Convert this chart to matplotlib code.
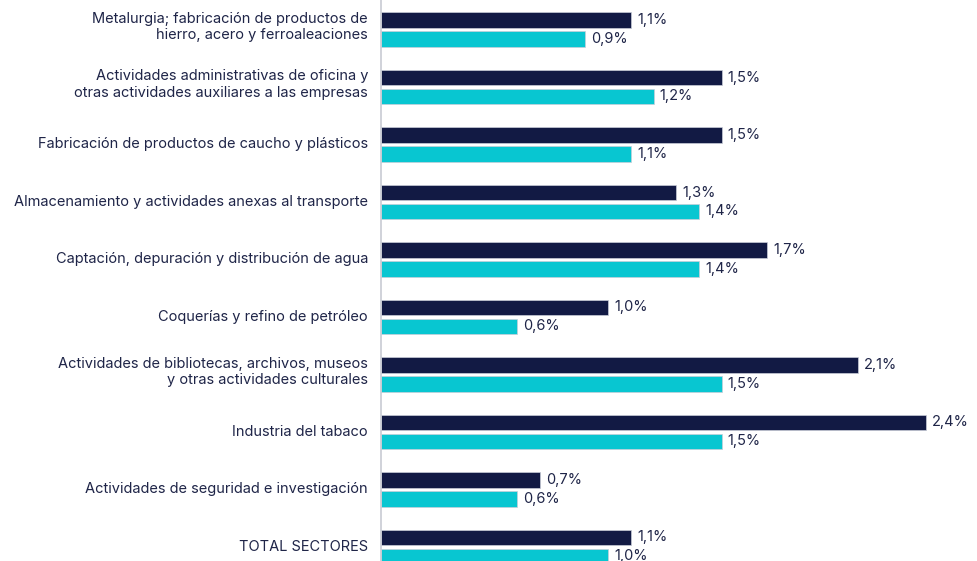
import matplotlib
matplotlib.use("Agg")
import matplotlib.pyplot as plt
import matplotlib.transforms as mtransforms
import numpy as np

categories = [
    "Metalurgia; fabricación de productos de\nhierro, acero y ferroaleaciones",
    "Actividades administrativas de oficina y\notras actividades auxiliares a las empresas",
    "Fabricación de productos de caucho y plásticos",
    "Almacenamiento y actividades anexas al transporte",
    "Captación, depuración y distribución de agua",
    "Coquerías y refino de petróleo",
    "Actividades de bibliotecas, archivos, museos\ny otras actividades culturales",
    "Industria del tabaco",
    "Actividades de seguridad e investigación",
    "TOTAL SECTORES",
]
serie_a = [1.1, 1.5, 1.5, 1.3, 1.7, 1.0, 2.1, 2.4, 0.7, 1.1]
serie_b = [0.9, 1.2, 1.1, 1.4, 1.4, 0.6, 1.5, 1.5, 0.6, 1.0]

dark = "#121a44"
cyan = "#08c6d1"
text_col = "#1f2548"
fs = 10.5

plt.rcParams['font.family'] = ['Inter', 'DejaVu Sans']

fig = plt.figure(figsize=(9.77, 5.61), dpi=100)
ax = fig.add_axes([381/977, 0, 596/977, 1])

y = np.arange(len(categories))
off = 0.33
h = 0.27
ax.barh(y, serie_a, height=h, color=dark, edgecolor="#c9cdd8", linewidth=0.5)
ax.barh(y + off, serie_b, height=h, color=cyan, edgecolor="#c9cdd8", linewidth=0.5)

def fmt(v):
    return f"{v:.1f}".replace(".", ",") + "%"

for yi, v in zip(y, serie_a):
    ax.text(v + 0.027, yi, fmt(v), va="center", ha="left", fontsize=fs, color=text_col)
for yi, v in zip(y, serie_b):
    ax.text(v + 0.027, yi + off, fmt(v), va="center", ha="left", fontsize=fs, color=text_col)

trans = ax.get_yaxis_transform()
for yi, cat in zip(y, categories):
    dy = 2.5 if "\n" in cat else 0.0
    t = trans + mtransforms.ScaledTranslation(-13 / 100, dy / 100, fig.dpi_scale_trans)
    ax.text(0, yi + off / 2, cat, transform=t, ha="right", va="center",
            fontsize=fs, color=text_col, linespacing=1.2, multialignment="right")

ax.set_yticks([])
ax.set_xticks([])
ax.set_xlim(0, 2.624)
ax.set_ylim(9.409, -0.348)
for s in ["top", "right", "bottom"]:
    ax.spines[s].set_visible(False)
ax.spines["left"].set_color("#c8cbd3")
ax.spines["left"].set_linewidth(1.2)

fig.savefig("out.png", dpi=100)
